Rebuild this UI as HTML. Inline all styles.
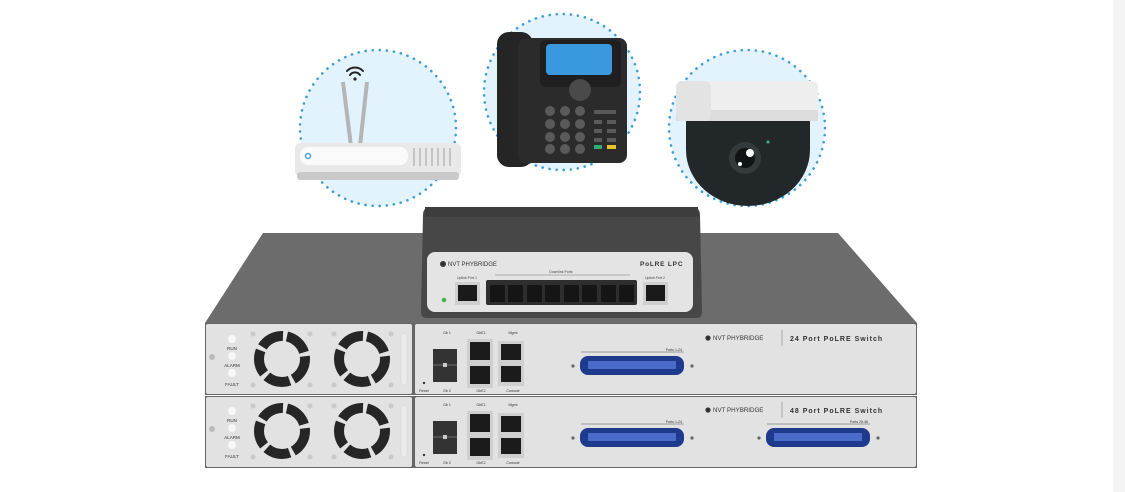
<!DOCTYPE html>
<html><head><meta charset="utf-8"><style>
html,body{margin:0;padding:0;background:#fff;}
svg{display:block;font-family:"Liberation Sans",sans-serif;}
</style></head><body>
<svg width="1125" height="492" viewBox="0 0 1125 492" xmlns="http://www.w3.org/2000/svg">
<rect x="0" y="0" width="1125" height="492" fill="#fff"/>
<rect x="1113" y="0" width="12" height="492" fill="#f4f4f4"/>

<!-- circles -->
<g fill="#e3f3fd" stroke="#3d9ed6" stroke-width="2.6" stroke-dasharray="0.1 7" stroke-linecap="round">
<circle cx="378" cy="128" r="78"/>
<circle cx="562" cy="92" r="78"/>
<circle cx="747" cy="128" r="78"/>
</g>

<!-- router -->
<line x1="343" y1="82" x2="351" y2="146" stroke="#b5b5b5" stroke-width="4"/>
<line x1="367" y1="82" x2="360" y2="146" stroke="#b5b5b5" stroke-width="4"/>
<g fill="none" stroke="#222" stroke-width="2" stroke-linecap="round">
<path d="M347 71 A11 11 0 0 1 363 71"/>
<path d="M350 75 A6 6 0 0 1 360 75"/>
</g>
<circle cx="355" cy="79" r="1.6" fill="#222"/>
<rect x="295" y="143" width="166" height="33" rx="5" fill="#e9e9e9"/>
<rect x="297" y="172" width="162" height="8" rx="3" fill="#c9c9c9"/>
<rect x="300" y="147" width="108" height="18" rx="8" fill="#fafafa"/>
<circle cx="308" cy="156" r="2.5" fill="none" stroke="#4aa4e0" stroke-width="1.5"/>
<g stroke="#b0b0b0" stroke-width="1.3">
<line x1="414" y1="148" x2="414" y2="166"/><line x1="420" y1="148" x2="420" y2="166"/><line x1="426" y1="148" x2="426" y2="166"/><line x1="432" y1="148" x2="432" y2="166"/><line x1="438" y1="148" x2="438" y2="166"/><line x1="444" y1="148" x2="444" y2="166"/><line x1="450" y1="148" x2="450" y2="166"/>
</g>

<!-- phone -->
<rect x="497" y="32" width="36" height="135" rx="12" fill="#252525"/>
<rect x="518" y="38" width="109" height="125" rx="8" fill="#2b2b2b"/>
<rect x="540" y="40" width="81" height="47" rx="6" fill="#1f1f1f"/>
<rect x="546" y="44" width="66" height="31" rx="4" fill="#3a98df"/>
<circle cx="580" cy="90" r="11" fill="#4a4a4a"/>
<g fill="#5a5a5a">
<circle cx="550" cy="111" r="5"/><circle cx="565" cy="111" r="5"/><circle cx="580" cy="111" r="5"/>
<circle cx="550" cy="124" r="5"/><circle cx="565" cy="124" r="5"/><circle cx="580" cy="124" r="5"/>
<circle cx="550" cy="137" r="5"/><circle cx="565" cy="137" r="5"/><circle cx="580" cy="137" r="5"/>
<circle cx="550" cy="149" r="5"/><circle cx="565" cy="149" r="5"/><circle cx="580" cy="149" r="5"/>
<rect x="594" y="110" width="22" height="4"/>
<rect x="594" y="120" width="8" height="4"/><rect x="607" y="120" width="9" height="4"/>
<rect x="594" y="129" width="8" height="4"/><rect x="607" y="129" width="9" height="4"/>
<rect x="594" y="138" width="8" height="4"/><rect x="607" y="138" width="9" height="4"/>
</g>
<rect x="594" y="145" width="8" height="4" fill="#2fae74"/>
<rect x="607" y="145" width="9" height="4" fill="#e6c22a"/>

<!-- camera -->
<path d="M686 118 L810 118 L810 150 A62 56 0 0 1 686 150 Z" fill="#222829"/>
<rect x="676" y="81" width="142" height="40" rx="6" fill="#eeeeee"/>
<rect x="676" y="110" width="142" height="11" fill="#dcdcdc"/>
<rect x="676" y="81" width="35" height="40" rx="6" fill="#e3e3e3"/>
<circle cx="745" cy="158" r="16" fill="#333a3c"/>
<circle cx="745" cy="158" r="10" fill="#101415"/>
<circle cx="750" cy="153" r="4" fill="#fff"/>
<circle cx="740" cy="164" r="2" fill="#fff"/>
<circle cx="768" cy="142" r="1.5" fill="#3fb38a"/>

<!-- switch top surface -->
<polygon points="263,233 838,233 917,323 205,323" fill="#6c6c6c"/>

<!-- LPC -->
<path d="M431 207 L692 207 Q700 207 700 215 L702 312 Q702 318 696 318 L427 318 Q421 318 421 312 L423 215 Q423 207 431 207 Z" fill="#474747"/>
<rect x="425" y="207" width="273" height="10" fill="#3d3d3d"/>
<rect x="427" y="252" width="266" height="60" rx="8" fill="#e4e4e4"/>
<circle cx="443" cy="264" r="3" fill="#333"/>
<text x="448" y="266" font-size="6" fill="#333">NVT PHYBRIDGE</text>
<text x="640" y="266" font-size="6.5" font-weight="bold" fill="#333" letter-spacing="0.8">PoLRE LPC</text>
<text x="561" y="273" font-size="3.5" fill="#444" text-anchor="middle">Downlink Ports</text>
<line x1="495" y1="275" x2="630" y2="275" stroke="#777" stroke-width="0.5"/>
<text x="467" y="279" font-size="3.5" fill="#444" text-anchor="middle">Uplink Port 1</text>
<text x="655" y="279" font-size="3.5" fill="#444" text-anchor="middle">Uplink Port 2</text>
<rect x="486" y="280" width="151" height="25" rx="2" fill="#2e2e2e"/>
<g fill="#151515">
<rect x="490" y="285" width="15" height="17"/><rect x="508" y="285" width="15" height="17"/><rect x="527" y="285" width="15" height="17"/><rect x="545" y="285" width="15" height="17"/><rect x="564" y="285" width="15" height="17"/><rect x="582" y="285" width="15" height="17"/><rect x="601" y="285" width="15" height="17"/><rect x="619" y="285" width="15" height="17"/>
</g>
<rect x="455" y="282" width="25" height="23" fill="#cfcfcf"/>
<rect x="458" y="285" width="19" height="16" fill="#1a1a1a"/>
<rect x="643" y="282" width="25" height="23" fill="#cfcfcf"/>
<rect x="646" y="285" width="19" height="16" fill="#1a1a1a"/>
<circle cx="444" cy="300" r="2.3" fill="#4caf50"/>

<!-- switch 1 -->
<g id="sw1">
<rect x="205" y="323" width="712" height="72" fill="#666"/>
<rect x="206" y="324" width="206" height="70" rx="2" fill="#e2e2e2"/>
<rect x="415" y="324" width="501" height="70" rx="2" fill="#e2e2e2"/>
<circle cx="212" cy="357" r="3" fill="#bbb"/>
<circle cx="232" cy="339" r="4" fill="#f7f7f7"/><circle cx="232" cy="356" r="4" fill="#f7f7f7"/><circle cx="232" cy="373" r="4" fill="#f7f7f7"/>
<g font-size="4.5" fill="#333" text-anchor="middle"><text x="232" y="350">RUN</text><text x="232" y="367">ALARM</text><text x="232" y="386">FAULT</text></g>
<g fill="none" stroke="#262626" stroke-width="10" stroke-dasharray="24.3 4">
<circle cx="282" cy="359" r="23"/><circle cx="362" cy="359" r="23"/>
</g>
<g fill="#c9c9c9"><circle cx="253" cy="334" r="2.5"/><circle cx="310" cy="334" r="2.5"/><circle cx="253" cy="385" r="2.5"/><circle cx="310" cy="385" r="2.5"/><circle cx="334" cy="334" r="2.5"/><circle cx="391" cy="334" r="2.5"/><circle cx="334" cy="385" r="2.5"/><circle cx="391" cy="385" r="2.5"/></g>
<rect x="401" y="333" width="6" height="52" rx="3" fill="#ececec" stroke="#d0d0d0" stroke-width="0.5"/>
<rect x="433" y="349" width="24" height="33" fill="#333"/>
<line x1="433" y1="365" x2="457" y2="365" stroke="#aaa" stroke-width="0.6"/>
<rect x="443" y="363" width="4" height="4" fill="#ccc"/>
<rect x="467" y="339" width="26" height="49" fill="#cfcfcf"/>
<rect x="470" y="342" width="20" height="18" fill="#1b1b1b"/><rect x="470" y="366" width="20" height="18" fill="#1b1b1b"/>
<rect x="498" y="341" width="26" height="45" fill="#cfcfcf"/>
<rect x="501" y="344" width="20" height="16" fill="#1b1b1b"/><rect x="501" y="366" width="20" height="16" fill="#1b1b1b"/>
<g font-size="3.6" fill="#333" text-anchor="middle"><text x="447" y="334">Gb 1</text><text x="481" y="334">GbE1</text><text x="513" y="334">Mgmt</text><text x="447" y="392">Gb 2</text><text x="481" y="392">GbE2</text><text x="513" y="392">Console</text><text x="424" y="392">Reset</text></g>
<circle cx="424" cy="383" r="1.2" fill="#333"/>
<rect x="580" y="356" width="104" height="19" rx="8" fill="#1e3a8c"/>
<rect x="588" y="361" width="88" height="8" fill="#4a6cc8"/>
<circle cx="573" cy="366" r="1.6" fill="#666"/><circle cx="692" cy="366" r="1.6" fill="#666"/>
<line x1="581" y1="352" x2="684" y2="352" stroke="#555" stroke-width="0.5"/>
<text x="682" y="351" font-size="3.5" fill="#333" text-anchor="end">Ports 1-24</text>
<circle cx="708" cy="338" r="2.6" fill="#333"/>
<text x="713" y="340" font-size="6.2" fill="#333">NVT PHYBRIDGE</text>
<line x1="782" y1="330" x2="782" y2="346" stroke="#888" stroke-width="0.6"/>
<text x="790" y="341" font-size="7" font-weight="bold" fill="#333" letter-spacing="1">24 Port PoLRE Switch</text>
</g>

<!-- switch 2 -->
<g transform="translate(0,72)">
<rect x="205" y="324" width="712" height="72" fill="#666"/>
<rect x="206" y="325" width="206" height="70" rx="2" fill="#e2e2e2"/>
<rect x="415" y="325" width="501" height="70" rx="2" fill="#e2e2e2"/>
<circle cx="212" cy="357" r="3" fill="#bbb"/>
<circle cx="232" cy="339" r="4" fill="#f7f7f7"/><circle cx="232" cy="356" r="4" fill="#f7f7f7"/><circle cx="232" cy="373" r="4" fill="#f7f7f7"/>
<g font-size="4.5" fill="#333" text-anchor="middle"><text x="232" y="350">RUN</text><text x="232" y="367">ALARM</text><text x="232" y="386">FAULT</text></g>
<g fill="none" stroke="#262626" stroke-width="10" stroke-dasharray="24.3 4">
<circle cx="282" cy="359" r="23"/><circle cx="362" cy="359" r="23"/>
</g>
<g fill="#c9c9c9"><circle cx="253" cy="334" r="2.5"/><circle cx="310" cy="334" r="2.5"/><circle cx="253" cy="385" r="2.5"/><circle cx="310" cy="385" r="2.5"/><circle cx="334" cy="334" r="2.5"/><circle cx="391" cy="334" r="2.5"/><circle cx="334" cy="385" r="2.5"/><circle cx="391" cy="385" r="2.5"/></g>
<rect x="401" y="333" width="6" height="52" rx="3" fill="#ececec" stroke="#d0d0d0" stroke-width="0.5"/>
<rect x="433" y="349" width="24" height="33" fill="#333"/>
<line x1="433" y1="365" x2="457" y2="365" stroke="#aaa" stroke-width="0.6"/>
<rect x="443" y="363" width="4" height="4" fill="#ccc"/>
<rect x="467" y="339" width="26" height="49" fill="#cfcfcf"/>
<rect x="470" y="342" width="20" height="18" fill="#1b1b1b"/><rect x="470" y="366" width="20" height="18" fill="#1b1b1b"/>
<rect x="498" y="341" width="26" height="45" fill="#cfcfcf"/>
<rect x="501" y="344" width="20" height="16" fill="#1b1b1b"/><rect x="501" y="366" width="20" height="16" fill="#1b1b1b"/>
<g font-size="3.6" fill="#333" text-anchor="middle"><text x="447" y="334">Gb 1</text><text x="481" y="334">GbE1</text><text x="513" y="334">Mgmt</text><text x="447" y="392">Gb 2</text><text x="481" y="392">GbE2</text><text x="513" y="392">Console</text><text x="424" y="392">Reset</text></g>
<circle cx="424" cy="383" r="1.2" fill="#333"/>
<rect x="580" y="356" width="104" height="19" rx="8" fill="#1e3a8c"/>
<rect x="588" y="361" width="88" height="8" fill="#4a6cc8"/>
<circle cx="573" cy="366" r="1.6" fill="#666"/><circle cx="692" cy="366" r="1.6" fill="#666"/>
<line x1="581" y1="352" x2="684" y2="352" stroke="#555" stroke-width="0.5"/>
<text x="682" y="351" font-size="3.5" fill="#333" text-anchor="end">Ports 1-24</text>
<rect x="766" y="356" width="104" height="19" rx="8" fill="#1e3a8c"/>
<rect x="774" y="361" width="88" height="8" fill="#4a6cc8"/>
<circle cx="759" cy="366" r="1.6" fill="#666"/><circle cx="878" cy="366" r="1.6" fill="#666"/>
<line x1="767" y1="352" x2="870" y2="352" stroke="#555" stroke-width="0.5"/>
<text x="868" y="351" font-size="3.5" fill="#333" text-anchor="end">Ports 25-48</text>
<circle cx="708" cy="338" r="2.6" fill="#333"/>
<text x="713" y="340" font-size="6.2" fill="#333">NVT PHYBRIDGE</text>
<line x1="782" y1="330" x2="782" y2="346" stroke="#888" stroke-width="0.6"/>
<text x="790" y="341" font-size="7" font-weight="bold" fill="#333" letter-spacing="1">48 Port PoLRE Switch</text>
</g>
</svg>
</body></html>
